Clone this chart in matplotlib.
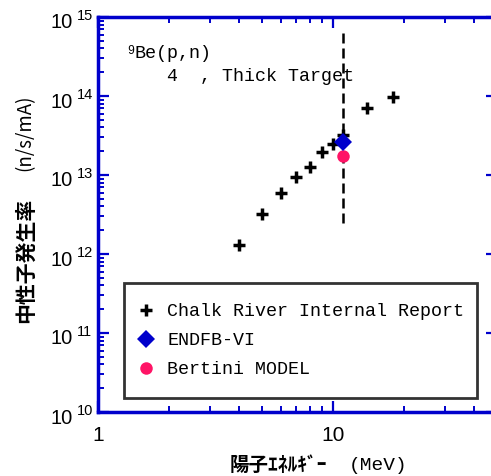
import matplotlib
matplotlib.use('Agg')
from matplotlib import pyplot as plt
import numpy as np

# data
energy_cr = [4, 5, 6, 7, 8, 9, 10, 11, 14, 18]
yield_cr = [1.3e12, 3.2e12, 5.9e12, 9.4e12, 1.26e13, 1.95e13, 2.47e13, 3.2e13, 7.05e13, 9.7e13]
energy_endf = [11]
yield_endf = [2.6e13]
energy_bert = [11]
yield_bert = [1.75e13]
cut_energy = [11, 11]
cut_range = [6.3e14, 2.4e12]
ydecades = [1e10, 1e11, 1e12, 1e13, 1e14, 1e15]
yexp = ['10', '11', '12', '13', '14', '15']
xticks = [1, 10]
xticklabels = ['1', '10']

blue = '#0000cc'
mono = 'Liberation Mono'
cjk = ['Noto Sans CJK JP', 'DejaVu Sans']

fig = plt.figure(figsize=(4.91, 4.76), dpi=100)
ax = fig.add_axes([98/491, 64/476, 399/491, 395/476])
ax.set_xscale('log')
ax.set_yscale('log')
ax.set_xlim(1, 50)
ax.set_ylim(1e10, 1e15)

# data
ax.plot(energy_cr, yield_cr, '+', color='black', ms=8, mew=2.5,
        label='Chalk River Internal Report', zorder=3)
ax.plot(energy_endf, yield_endf, 'D', color=blue, ms=9, mew=0,
        label='ENDFB-VI', zorder=4)
ax.plot(energy_bert, yield_bert, 'o', color='#ff1466', ms=9, mew=0,
        label='Bertini MODEL', zorder=3)
ax.plot(cut_energy, cut_range, color='black', lw=1.8, ls=(0, (4, 2)), zorder=2)

# spines / ticks
for s in ax.spines.values():
    s.set_color(blue)
    s.set_linewidth(2.5)
ax.tick_params(which='both', direction='in', color=blue, top=True, right=True)
ax.tick_params(which='major', length=8, width=1.6)
ax.tick_params(which='minor', length=4, width=1.4)
ax.yaxis.set_minor_locator(matplotlib.ticker.LogLocator(base=10, subs=np.arange(2, 10)))
ax.xaxis.set_minor_locator(matplotlib.ticker.LogLocator(base=10, subs=np.arange(2, 10)))
ax.yaxis.set_minor_formatter(matplotlib.ticker.NullFormatter())
ax.xaxis.set_minor_formatter(matplotlib.ticker.NullFormatter())
ax.set_xticks(xticks)
ax.set_xticklabels(xticklabels, fontsize=15, family='Liberation Sans')
ax.tick_params(axis='x', which='major', pad=10)
ax.set_yticks(ydecades)
ax.set_yticklabels([])

for v, e in zip(ydecades, yexp):
    ax.annotate('10', xy=(0, v), xycoords=('axes fraction', 'data'),
                xytext=(-25, -6), textcoords='offset pixels', ha='right', va='center',
                fontsize=14.5, family='Liberation Sans')
    ax.annotate(e, xy=(0, v), xycoords=('axes fraction', 'data'),
                xytext=(-21, 1), textcoords='offset pixels', ha='left', va='center',
                fontsize=10.5, family='Liberation Sans')

# reaction text
ax.text(0.073, 0.915, '9', transform=ax.transAxes, fontsize=8.5, family=mono, va='center')
ax.text(0.092, 0.907, 'Be(p,n)', transform=ax.transAxes, fontsize=13.2, family=mono, va='center')
ax.text(0.172, 0.850, '4  , Thick Target', transform=ax.transAxes, fontsize=13.2,
        family=mono, va='center')

leg = ax.legend(loc='upper left', bbox_to_anchor=(0.065, 0.327, 0.885, 0.0), mode='expand',
                prop={'family': mono, 'size': 13.2}, frameon=True, fancybox=False,
                handlelength=0.2, handletextpad=1.05, borderpad=1.1, labelspacing=0.66,
                borderaxespad=0)
leg.get_frame().set_edgecolor('black')
leg.get_frame().set_linewidth(2)

fig.text(25/491, 1 - 260/476, '中性子発生率', rotation=90, ha='center', va='center',
         fontsize=15, family=cjk, fontweight='bold')
fig.text(25/491, 1 - 133/476, '(n/s/mA)', rotation=90, ha='center', va='center',
         fontsize=13.5, family=cjk)
fig.text(230/491, 1 - 465/476, '陽子ｴﾈﾙｷﾞｰ', ha='left', va='center',
         fontsize=14, family=cjk, fontweight='bold')
fig.text(407/491, 1 - 465/476, '(MeV)', ha='right', va='center',
         fontsize=14, family=mono)

fig.savefig('out.png', dpi=100)
